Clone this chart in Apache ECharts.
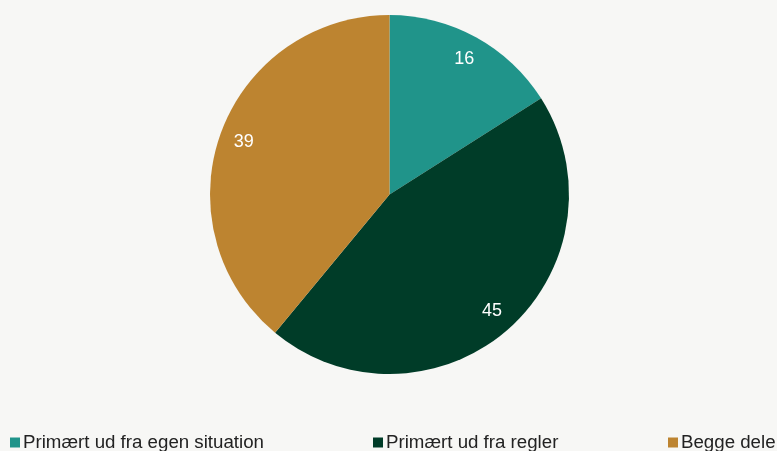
<!DOCTYPE html>
<html><head><meta charset="utf-8">
<script src="https://cdn.jsdelivr.net/npm/echarts@6/dist/echarts.min.js"></script>
<style>html,body{margin:0;padding:0;background:#f7f7f5;}#c{width:777px;height:451px;}</style>
</head><body><div id="c"></div>
<script>
var categories = ["Primært ud fra egen situation", "Primært ud fra regler", "Begge dele"];
var values = [16, 45, 39];
var colors = ["#20948a", "#003c28", "#bd8430"];
var data = categories.map(function(c, i){ return {name: c, value: values[i], itemStyle:{color: colors[i]}}; });
var chart = echarts.init(document.getElementById('c'), null, {renderer:'canvas'});
var legendLefts = [10, 373, 668];
chart.setOption({
  backgroundColor: '#f7f7f5',
  animation: false,
  legend: categories.map(function(c, i){ return {
    data: [c], left: legendLefts[i], top: 433, padding: 0, itemWidth: 10, itemHeight: 10, itemGap: 0,
    icon: 'rect', selectedMode: false,
    textStyle: {fontFamily: 'Liberation Sans, Arial', fontSize: 18.7, color: '#222', padding: [0,0,0,-2]}
  }; }),
  series: [{
    type: 'pie', center: [389.5, 194.5], radius: [0, 179.5], startAngle: 90, clockwise: true,
    label: {show: false}, labelLine: {show: false}, silent: true,
    data: data
  }, {
    type: 'pie', center: [389.5, 194.5], radius: [124, 180], startAngle: 90, clockwise: true,
    silent: true, legendHoverLink: false,
    itemStyle: {color: 'rgba(0,0,0,0)'},
    label: {show: true, position: 'inside', formatter: '{c}', color: '#fff', fontSize: 18, fontFamily: 'Liberation Sans, Arial'},
    labelLine: {show: false},
    data: values.map(function(v, i){ return {name: categories[i] + ' ', value: v}; })
  }]
});
</script></body></html>
